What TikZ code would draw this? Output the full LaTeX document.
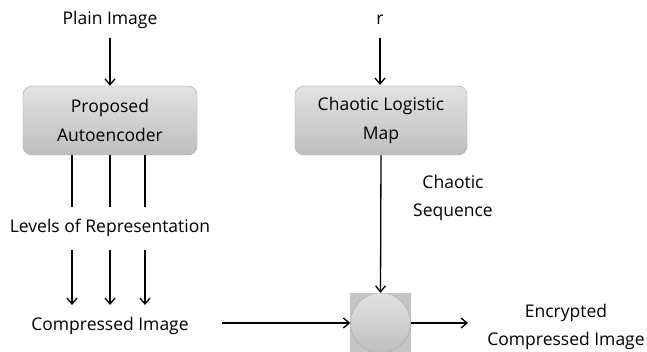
\documentclass[tikz,border=0pt]{standalone}
\usepackage{fontspec}
\setmainfont{Open Sans}
\usepackage{tikz}
\usetikzlibrary{arrows.meta,positioning,calc}
\definecolor{boxtop}{HTML}{E2E2E2}
\definecolor{boxbot}{HTML}{BEBEBE}
\definecolor{boxedge}{HTML}{A6A6A6}
\tikzset{
  aebox/.style={draw=boxedge, rounded corners=9pt, top color=boxtop, bottom color=boxbot,
    minimum width=174pt, minimum height=69pt, align=center, font=\fontsize{17.5}{28.5}\selectfont},
  aelabel/.style={align=center, font=\fontsize{17.5}{28}\selectfont},
  aearrow/.style={-{Straight Barb[length=6pt,width=10pt]}, line width=1.3pt},
  aeline/.style={line width=1.3pt},
}
\begin{document}
\begin{tikzpicture}[x=1pt,y=-1pt]
  \useasboundingbox (0,0) rectangle (647,352);
  % left column
  \node[aelabel] (plain) at (110,20) {Plain Image};
  \node[aebox] (ae) at (110,120.5) {Proposed\\Autoencoder};
  \node[aelabel] (levels) at (110,228) {Levels of Representation};
  \node[aelabel] (comp) at (110,326) {Compressed Image};
  \draw[aearrow] (plain.south |- 0,38) -- (ae.north);
  \foreach \xx in {72,110,145} {
    \draw[aeline] (\xx,155) -- (\xx,207);
    \draw[aearrow] (\xx,250) -- (\xx,305);
  }
  % right column
  \node[aelabel] (r) at (380,20) {r};
  \node[aebox, minimum width=172pt] (clm) at (381,120.5) {Chaotic Logistic\\Map};
  \node[aelabel] (seq) at (453,198) {Chaotic\\Sequence};
  % XOR stage
  \fill[boxbot!90!white] (350,293) rectangle (411,352);
  \node[circle, draw=boxedge, top color=boxtop, bottom color=boxbot, minimum size=60pt, inner sep=0pt] (mix) at (380.5,323) {};
  \node[aelabel] (enc) at (566,326.5) {Encrypted\\Compressed Image};
  \draw[aearrow] (380,38) -- (380,85);
  \draw[aearrow] (clm.south) -- (mix.north);
  \draw[aearrow] (222,323) -- (mix.west);
  \draw[aearrow] (mix.east) -- (468,323);
\end{tikzpicture}
\end{document}
